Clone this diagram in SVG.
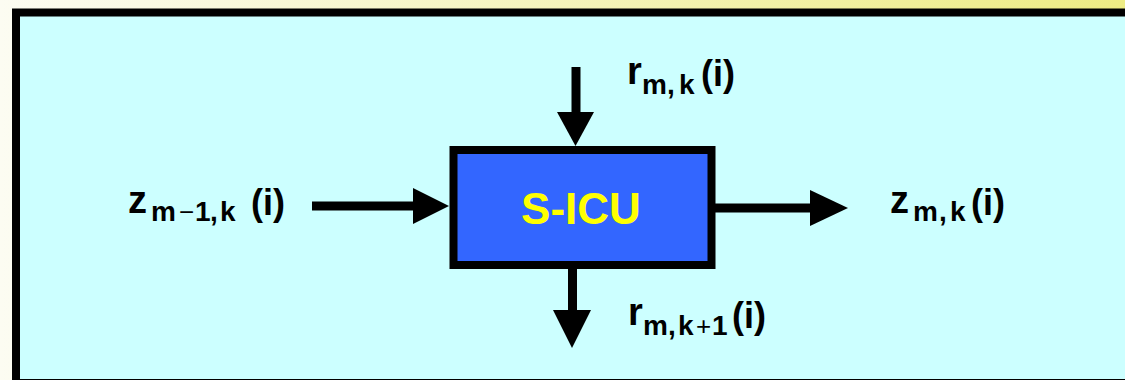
<svg xmlns="http://www.w3.org/2000/svg" width="1125" height="380" viewBox="0 0 1125 380">
<defs>
<linearGradient id="bg" x1="0" y1="0" x2="1" y2="0">
<stop offset="0" stop-color="#FCFCF2"/>
<stop offset="1" stop-color="#EDEC84"/>
</linearGradient>
<style>
.lbl{font-family:"Liberation Sans",Arial,sans-serif;font-weight:bold;fill:#000}
.main{font-size:38px}
.sub{font-size:28px}
.op{font-weight:normal;font-size:26px}
.par{font-size:36px}
.conn line{stroke:#000;stroke-width:9}
.conn polygon{fill:#000}
</style>
</defs>
<rect x="0" y="0" width="1125" height="380" fill="url(#bg)"/>
<rect x="16" y="12.5" width="1130" height="370.5" fill="#CCFFFF" stroke="#000" stroke-width="8"/>

<g id="sicu">
<rect x="453.5" y="150" width="258" height="115" fill="#3366FF" stroke="#000" stroke-width="8"/>
<text x="581" y="224" text-anchor="middle" font-family="Liberation Sans,Arial,sans-serif" font-weight="bold" font-size="44" fill="#FFFF00">S-ICU</text>
</g>

<g id="connectors" class="conn">
<line x1="312" y1="206" x2="416" y2="206"/>
<polygon points="413,188 449,206 413,224"/>
<line x1="715" y1="208" x2="812" y2="208"/>
<polygon points="810,190 848,208 810,226"/>
<line x1="576" y1="67" x2="576" y2="114"/>
<polygon points="557,112 594,112 575.5,146"/>
<line x1="572.5" y1="269" x2="572.5" y2="312"/>
<polygon points="553,310 591,310 572,348"/>
</g>

<g id="label-zin" class="lbl">
<text class="main" x="128" y="213">z</text>
<text class="sub" y="221"><tspan x="151">m</tspan><tspan class="op" x="179">−</tspan><tspan x="195">1</tspan><tspan x="210">,</tspan><tspan x="220">k</tspan></text>
<text class="par" x="251" y="215">(i)</text>
</g>

<g id="label-rin" class="lbl">
<text class="main" x="627" y="84">r</text>
<text class="sub" y="94"><tspan x="642">m</tspan><tspan x="667">,</tspan><tspan x="679">k</tspan></text>
<text class="par" x="701" y="86">(i)</text>
</g>

<g id="label-zout" class="lbl">
<text class="main" x="890" y="213">z</text>
<text class="sub" y="221"><tspan x="913">m</tspan><tspan x="939">,</tspan><tspan x="950">k</tspan></text>
<text class="par" x="971" y="215">(i)</text>
</g>

<g id="label-rout" class="lbl">
<text class="main" x="628" y="325">r</text>
<text class="sub" y="335"><tspan x="643">m</tspan><tspan x="668">,</tspan><tspan x="678">k</tspan><tspan class="op" x="696">+</tspan><tspan x="712">1</tspan></text>
<text class="par" x="732" y="328">(i)</text>
</g>
</svg>
